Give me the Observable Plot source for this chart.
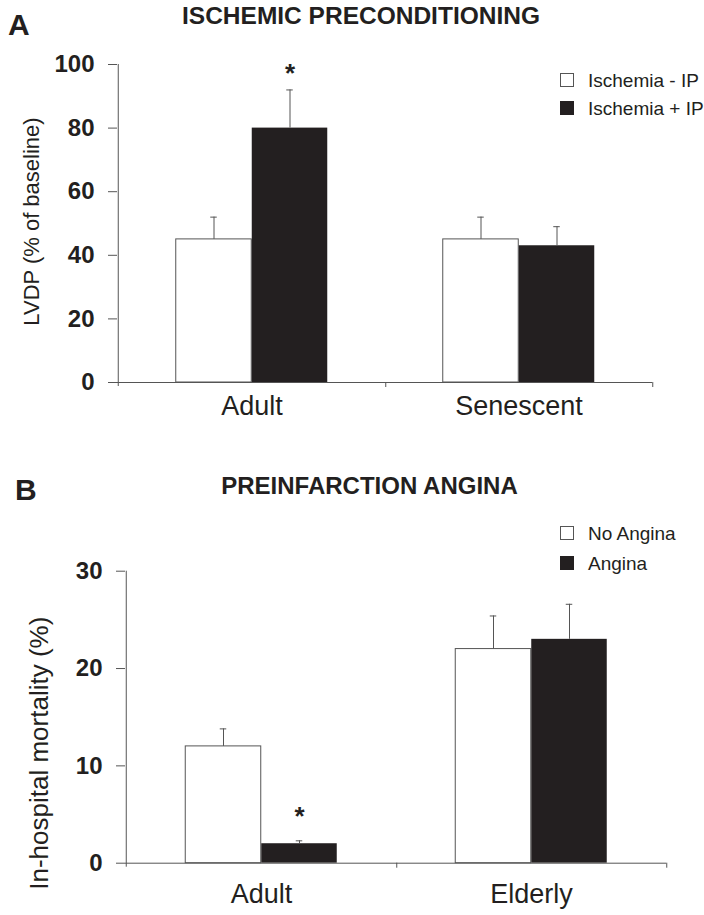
<!DOCTYPE html>
<html><head><meta charset="utf-8">
<script src="https://cdn.jsdelivr.net/npm/d3@7"></script>
<script src="https://cdn.jsdelivr.net/npm/@observablehq/plot@0.6"></script>
<style>
body{margin:0;background:#fff;}
#wrap{position:relative;width:704px;height:915px;overflow:hidden;font-family:"Liberation Sans",Arial,sans-serif;color:#231f20;background:#fff;}
.abs{position:absolute;white-space:nowrap;line-height:1;}
.sw{position:absolute;width:14px;height:14px;box-sizing:border-box;}
#wrap svg{position:absolute;left:0;}
</style></head><body><div id="wrap"></div>
<script>
// ---------- Panel A data ----------
const groupsA = ["Adult", "Senescent"];
const seriesA = ["Ischemia - IP", "Ischemia + IP"];
const meanA_minus = [45, 45];
const sdA_minus = [7, 7];
const meanA_plus = [80, 43];
const sdA_plus = [12, 6];
const ticksA = [0, 20, 40, 60, 80, 100];
const starA = [{group: "Adult", y: 97}];

// ---------- Panel B data ----------
const groupsB = ["Adult", "Elderly"];
const seriesB = ["No Angina", "Angina"];
const meanB_none = [12, 22];
const sdB_none = [1.8, 3.4];
const meanB_ang = [2, 23];
const sdB_ang = [0.3, 3.6];
const ticksB = [0, 10, 20, 30];
const starB = [{group: "Adult", y: 4.8}];

const FONT = '"Liberation Sans", Arial, sans-serif';
const INK = "#231f20";
const LINE = "#555";

function panel(o) {
  const width = 704;
  const band = (width - o.marginLeft - o.marginRight) / o.groups.length;
  const barW = 76;
  const outer = (band - 2 * barW) / 2;
  const capW = 7;
  const rows = (m, s) => o.groups.map((g, i) => ({group: g, mean: m[i], top: m[i] + s[i]}));
  const r0 = rows(o.means[0], o.sds[0]);
  const r1 = rows(o.means[1], o.sds[1]);
  return Plot.plot({
    width, height: o.height,
    marginTop: o.marginTop, marginBottom: o.marginBottom,
    marginLeft: o.marginLeft, marginRight: o.marginRight,
    style: {fontFamily: FONT, background: "white", color: INK, overflow: "visible"},
    x: {type: "band", domain: o.groups, padding: 0},
    y: {domain: o.yDomain},
    marks: [
      Plot.barY(r0, {x: "group", y: "mean", fill: "white", stroke: LINE, strokeWidth: 1, insetLeft: outer, insetRight: outer + barW}),
      Plot.barY(r1, {x: "group", y: "mean", fill: INK, insetLeft: outer + barW, insetRight: outer}),
      Plot.ruleX(r0, {x: "group", y1: "mean", y2: "top", dx: -barW / 2, stroke: LINE}),
      Plot.ruleX(r1, {x: "group", y1: "mean", y2: "top", dx: barW / 2, stroke: LINE}),
      Plot.tickY(r0, {x: "group", y: "top", stroke: LINE, insetLeft: outer + barW / 2 - capW / 2, insetRight: band - outer - barW / 2 - capW / 2}),
      Plot.tickY(r1, {x: "group", y: "top", stroke: LINE, insetLeft: outer + 1.5 * barW - capW / 2, insetRight: band - outer - 1.5 * barW - capW / 2}),
      Plot.ruleY([0], {stroke: LINE}),
      Plot.ruleX([o.groups[0]], {x: d => d, dx: -band / 2, y1: o.yDomain[1], y2: 0, insetBottom: -4, stroke: LINE}),
      Plot.ruleX(o.groups, {x: d => d, dx: band / 2, y1: 0, y2: 0, insetBottom: -5, stroke: LINE}),
      Plot.axisY({ticks: o.ticks, tickSize: 9, tickPadding: 14, fontSize: 24, fontWeight: "bold", stroke: LINE, fill: INK, label: null}),
      Plot.axisX({tickSize: 0, tickPadding: o.xPad, fontSize: 27, fill: INK, label: null}),
      Plot.text([o.yLabel], {text: d => d, frameAnchor: "left", textAnchor: "middle", lineAnchor: "middle", rotate: -90, dx: -86, dy: o.labelDy, fontSize: o.labelSize, fill: INK}),
      Plot.text(o.stars, {x: "group", y: "y", dx: barW / 2, text: () => "*", fontSize: 26, fontWeight: "bold", fill: INK})
    ]
  });
}

const wrap = document.getElementById("wrap");

function addText(txt, left, baseline, fs, weight, center) {
  const d = document.createElement("div");
  d.className = "abs";
  d.textContent = txt;
  d.style.fontSize = fs + "px";
  d.style.fontWeight = weight;
  d.style.top = (baseline - 0.8465 * fs) + "px";
  if (center) { d.style.left = (left - 400) + "px"; d.style.width = "800px"; d.style.textAlign = "center"; }
  else d.style.left = left + "px";
  wrap.appendChild(d);
}
function addLegend(labels, rowsY) {
  labels.forEach((lab, i) => {
    const s = document.createElement("div");
    s.className = "sw";
    s.style.left = "560px";
    s.style.top = (rowsY[i] - 7) + "px";
    if (i === 0) { s.style.background = "white"; s.style.border = "1px solid " + LINE; }
    else s.style.background = INK;
    wrap.appendChild(s);
    const t = document.createElement("div");
    t.className = "abs";
    t.textContent = lab;
    t.style.fontSize = "19px";
    t.style.left = "588px";
    t.style.top = (rowsY[i] - 9.5) + "px";
    wrap.appendChild(t);
  });
}

const svgA = panel({
  groups: groupsA, means: [meanA_minus, meanA_plus], sds: [sdA_minus, sdA_plus],
  yDomain: [0, 100], ticks: ticksA, yLabel: "LVDP (% of baseline)", stars: starA,
  height: 430, marginTop: 64, marginBottom: 48, marginLeft: 117, marginRight: 52,
  labelDy: -2, labelSize: 22, xPad: 13
});
svgA.style.top = "0px";
wrap.appendChild(svgA);

const svgB = panel({
  groups: groupsB, means: [meanB_none, meanB_ang], sds: [sdB_none, sdB_ang],
  yDomain: [0, 30], ticks: ticksB, yLabel: "In-hospital mortality (%)", stars: starB,
  height: 445, marginTop: 100.7, marginBottom: 52.3, marginLeft: 125, marginRight: 38,
  labelDy: 36, labelSize: 26, xPad: 21
});
svgB.style.top = "470px";
wrap.appendChild(svgB);

addText("A", 8, 35, 30, "bold", false);
addText("ISCHEMIC PRECONDITIONING", 361, 25, 24.5, "bold", true);
addText("B", 15, 500, 30, "bold", false);
addText("PREINFARCTION ANGINA", 369.5, 494, 24, "bold", true);
addLegend(seriesA, [80, 108]);
addLegend(seriesB, [533, 563]);
</script></body></html>
